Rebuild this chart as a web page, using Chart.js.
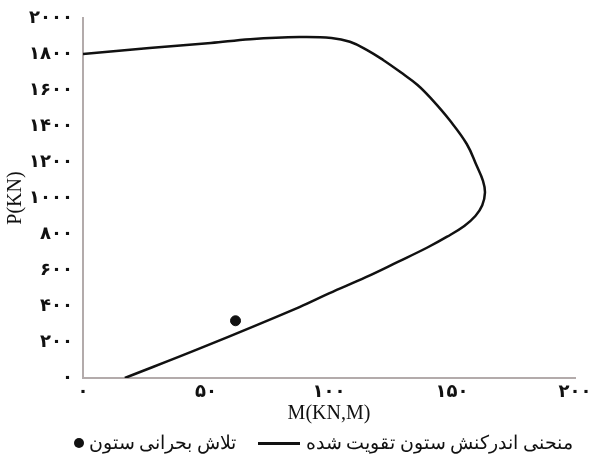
<!DOCTYPE html>
<html>
<head>
<meta charset="utf-8">
<script src="https://cdn.jsdelivr.net/npm/chart.js@4.4.0/dist/chart.umd.min.js"></script>
<style>
  body { margin: 0; background: #fff; }
  #wrap { position: relative; width: 592px; height: 457px; }
  #legend { position: absolute; left: 0; top: 432px; width: 592px; height: 26px;
    font-family: "Liberation Serif", "DejaVu Serif", serif; font-size: 18.5px; color: #111; }
  .item { position: absolute; top: 0; display: flex; align-items: center; white-space: nowrap; }
  .dot { width: 10px; height: 10px; border-radius: 50%; background: #111; margin-right: 5px; }
  .ln { width: 42px; height: 3px; background: #111; margin-right: 6px; }
</style>
</head>
<body>
<div id="wrap">
  <canvas id="chart" width="592" height="457"></canvas>
  <div id="legend">
    <div class="item" style="right:356px"><span class="dot"></span><span dir="rtl">تلاش بحرانی ستون</span></div>
    <div class="item" style="right:19px"><span class="ln"></span><span dir="rtl">منحنی اندرکنش ستون تقویت شده</span></div>
  </div>
</div>
<script>
// interaction curve (M in KN.m, P in KN)
const curveM = [0, 27, 52, 68, 88, 101, 108.5, 115.5, 122, 129, 136, 142, 149, 156, 160, 162.6, 163.4, 162.3, 159.5, 155, 148, 140, 128, 115, 100, 88, 48, 17];
const curveP = [1800, 1833, 1861, 1882, 1894, 1889, 1868, 1822, 1767, 1700, 1628, 1545, 1433, 1300, 1180, 1095, 1030, 960, 900, 845, 785, 725, 645, 560, 470, 394, 167, 0];

// critical column load
const critM = [62];
const critP = [318];

const xTickLabels = ["۰", "۵۰", "۱۰۰", "۱۵۰", "۲۰۰"];
const yTickLabels = ["۰", "۲۰۰", "۴۰۰", "۶۰۰", "۸۰۰", "۱۰۰۰", "۱۲۰۰", "۱۴۰۰", "۱۶۰۰", "۱۸۰۰", "۲۰۰۰"];

const toPts = (xs, ys) => xs.map((x, i) => ({ x: x, y: ys[i] }));

const tickFont = { family: "'Liberation Serif', 'DejaVu Sans', serif", size: 18, weight: "bold" };
const titleFont = { family: "'Liberation Serif', serif", size: 20 };
const axisColor = "#b3abab";

new Chart(document.getElementById("chart"), {
  type: "scatter",
  data: {
    datasets: [
      {
        label: "تلاش بحرانی ستون",
        data: toPts(critM, critP),
        backgroundColor: "#111",
        borderColor: "#111",
        pointRadius: 5,
      },
      {
        label: "منحنی اندرکنش ستون تقویت شده",
        data: toPts(curveM, curveP),
        showLine: true,
        borderColor: "#111",
        borderWidth: 2.5,
        pointRadius: 0,
        tension: 0.4,
        fill: false,
      },
    ],
  },
  options: {
    responsive: false,
    animation: false,
    layout: { padding: { left: 0, right: 17, top: 18, bottom: 31 } },
    plugins: { legend: { display: false }, tooltip: { enabled: false } },
    scales: {
      x: {
        type: "linear",
        min: 0,
        max: 200,
        grid: { display: false },
        border: { color: axisColor, width: 2 },
        ticks: {
          stepSize: 50,
          padding: -4,
          color: "#111",
          font: tickFont,
          callback: (v, i) => xTickLabels[i],
        },
        title: { display: true, text: "M(KN,M)", color: "#111", font: titleFont, padding: { top: 0, bottom: 0 } },
        afterFit: (s) => { s.height = 48; },
      },
      y: {
        min: 0,
        max: 2000,
        grid: { display: false },
        border: { color: axisColor, width: 2 },
        ticks: {
          stepSize: 200,
          padding: 2,
          color: "#111",
          font: tickFont,
          callback: (v, i) => yTickLabels[i],
        },
        title: { display: true, text: "P(KN)", color: "#111", font: titleFont, padding: { top: 4, bottom: 0 } },
        afterFit: (s) => { s.width = 83; },
      },
    },
  },
});
</script>
</body>
</html>
